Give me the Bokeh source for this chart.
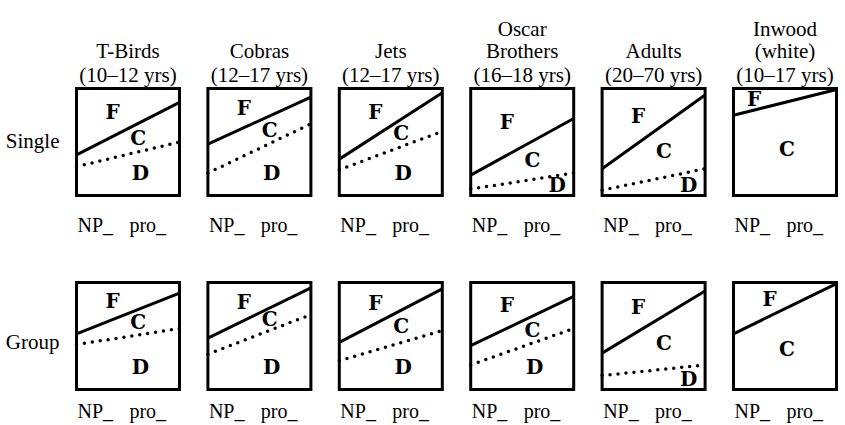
from bokeh.plotting import figure
from bokeh.models import ColumnDataSource, Range1d
from bokeh.embed import file_html
from bokeh.resources import INLINE
from bokeh.core.properties import value

# ---------------- data ----------------
title_line1 = ["", "", "", "Oscar", "", "Inwood"]
title_line2 = ["T-Birds", "Cobras", "Jets", "Brothers", "Adults", "(white)"]
age_labels = ["(10–12 yrs)", "(12–17 yrs)", "(12–17 yrs)", "(16–18 yrs)", "(20–70 yrs)", "(10–17 yrs)"]
row_labels = ["Single", "Group"]
env_left = "NP_"
env_right = "pro_"

# F/C boundary (solid line) at NP_ (left) and pro_ (right)
single_fc_np = [0.38, 0.48, 0.34, 0.19, 0.25, 0.75]
single_fc_pro = [0.87, 0.92, 0.96, 0.72, 0.94, 0.99]
# C/D boundary (dotted line); None = no deletion
single_cd_np = [0.27, 0.21, 0.24, 0.06, 0.05, None]
single_cd_pro = [0.50, 0.67, 0.60, 0.21, 0.25, None]

group_fc_np = [0.52, 0.48, 0.44, 0.41, 0.34, 0.52]
group_fc_pro = [0.90, 0.95, 0.94, 0.87, 0.92, 0.99]
group_cd_np = [0.42, 0.33, 0.27, 0.23, 0.13, None]
group_cd_pro = [0.57, 0.70, 0.55, 0.57, 0.23, None]

# ---------------- layout ----------------
W, H = 845, 425
BOX_W, BOX_H = 103.0, 107.0
STEP = 131.4
LEFT0 = 76.0
BOT_SINGLE, BOT_GROUP = 195.0, 389.0

xr = Range1d(-LEFT0 / BOX_W, (W - LEFT0) / BOX_W)
yr = Range1d(-(H - BOT_SINGLE) / BOX_H, BOT_SINGLE / BOX_H)
col_off = [i * STEP / BOX_W for i in range(len(title_line2))]
row_off = [0.0, -(BOT_GROUP - BOT_SINGLE) / BOX_H]

rows = [
    (single_fc_np, single_fc_pro, single_cd_np, single_cd_pro),
    (group_fc_np, group_fc_pro, group_cd_np, group_cd_pro),
]

box = dict(l=[], r=[], b=[], t=[])
solid = dict(x0=[], y0=[], x1=[], y1=[])
dots = dict(x0=[], y0=[], x1=[], y1=[])
let = dict(x=[], y=[], t=[])
envl = dict(x=[], y=[], t=[])
envr = dict(x=[], y=[], t=[])

def lin(a, b, x):
    return a + (b - a) * x

for r, (fnp, fpro, dnp, dpro) in enumerate(rows):
    oy = row_off[r]
    for c, ox in enumerate(col_off):
        box["l"].append(ox); box["r"].append(ox + 1)
        box["b"].append(oy); box["t"].append(oy + 1)
        solid["x0"].append(ox); solid["y0"].append(oy + fnp[c])
        solid["x1"].append(ox + 1); solid["y1"].append(oy + fpro[c])
        has_d = dnp[c] is not None
        if has_d:
            dots["x0"].append(ox); dots["y0"].append(oy + dnp[c])
            dots["x1"].append(ox + 1); dots["y1"].append(oy + dpro[c])
        # letters placed inside their regions
        fx = 0.35 if fnp[c] < 0.6 else 0.2
        let["x"].append(ox + fx)
        let["y"].append(oy + (lin(fnp[c], fpro[c], fx) + 1) / 2)
        let["t"].append("F")
        cx = 0.6 if has_d else 0.52
        dlow = lin(dnp[c], dpro[c], cx) if has_d else 0.0
        let["x"].append(ox + cx)
        let["y"].append(oy + (lin(fnp[c], fpro[c], cx) + dlow) / 2)
        let["t"].append("C")
        if has_d:
            dy = lin(dnp[c], dpro[c], 0.62) / 2
            if dy < 0.12:
                let["x"].append(ox + 0.84); let["y"].append(oy + 0.1)
            else:
                let["x"].append(ox + 0.62); let["y"].append(oy + min(dy, 0.21))
            let["t"].append("D")
        envl["x"].append(ox + 0.01); envr["x"].append(ox + 0.87)
        ey = oy - (0.28 if r == 0 else 0.205)
        envl["y"].append(ey); envr["y"].append(ey)
        envl["t"].append(env_left); envr["t"].append(env_right)

p = figure(width=W, height=H, x_range=xr, y_range=yr, output_backend="svg",
           toolbar_location=None, min_border=0, x_axis_type=None, y_axis_type=None,
           outline_line_color=None, background_fill_color="white",
           border_fill_color="white")
p.grid.visible = False

p.segment(x0="x0", y0="y0", x1="x1", y1="y1", source=ColumnDataSource(solid),
          line_color="black", line_width=3)
p.segment(x0="x0", y0="y0", x1="x1", y1="y1", source=ColumnDataSource(dots),
          line_color="black", line_width=3.5, line_dash="0 8", line_cap="round")
p.quad(left="l", right="r", bottom="b", top="t", source=ColumnDataSource(box),
       fill_color=None, line_color="black", line_width=3, line_join="miter")

serif = value("Liberation Serif")
p.text(x="x", y="y", text="t", source=ColumnDataSource(let), text_font=value("DejaVu Serif"),
       text_font_style="bold", text_font_size="20px", text_align="center",
       text_baseline="middle", text_color="black")

cx = [o + 0.5 for o in col_off]
y1 = (BOT_SINGLE - 28) / BOX_H
y2 = (BOT_SINGLE - 50) / BOX_H
y3 = (BOT_SINGLE - 74) / BOX_H
hdr = dict(x=cx * 3, y=[y1] * 6 + [y2] * 6 + [y3] * 6,
           t=title_line1 + title_line2 + age_labels)
p.text(x="x", y="y", text="t", source=ColumnDataSource(hdr), text_font=serif,
       text_font_size="21px", text_align="center", text_baseline="alphabetic",
       text_color="black")

rl = dict(x=[-0.165, -0.165], y=[row_off[0] + 0.505, row_off[1] + 0.44], t=row_labels)
p.text(x="x", y="y", text="t", source=ColumnDataSource(rl), text_font=serif,
       text_font_size="21px", text_align="right", text_baseline="alphabetic",
       text_color="black")

p.text(x="x", y="y", text="t", source=ColumnDataSource(envl), text_font=serif,
       text_font_size="20px", text_align="left", text_baseline="alphabetic",
       text_color="black")
p.text(x="x", y="y", text="t", source=ColumnDataSource(envr), text_font=serif,
       text_font_size="20px", text_align="right", text_baseline="alphabetic",
       text_color="black")

open("out.html", "w").write(file_html(p, INLINE))
